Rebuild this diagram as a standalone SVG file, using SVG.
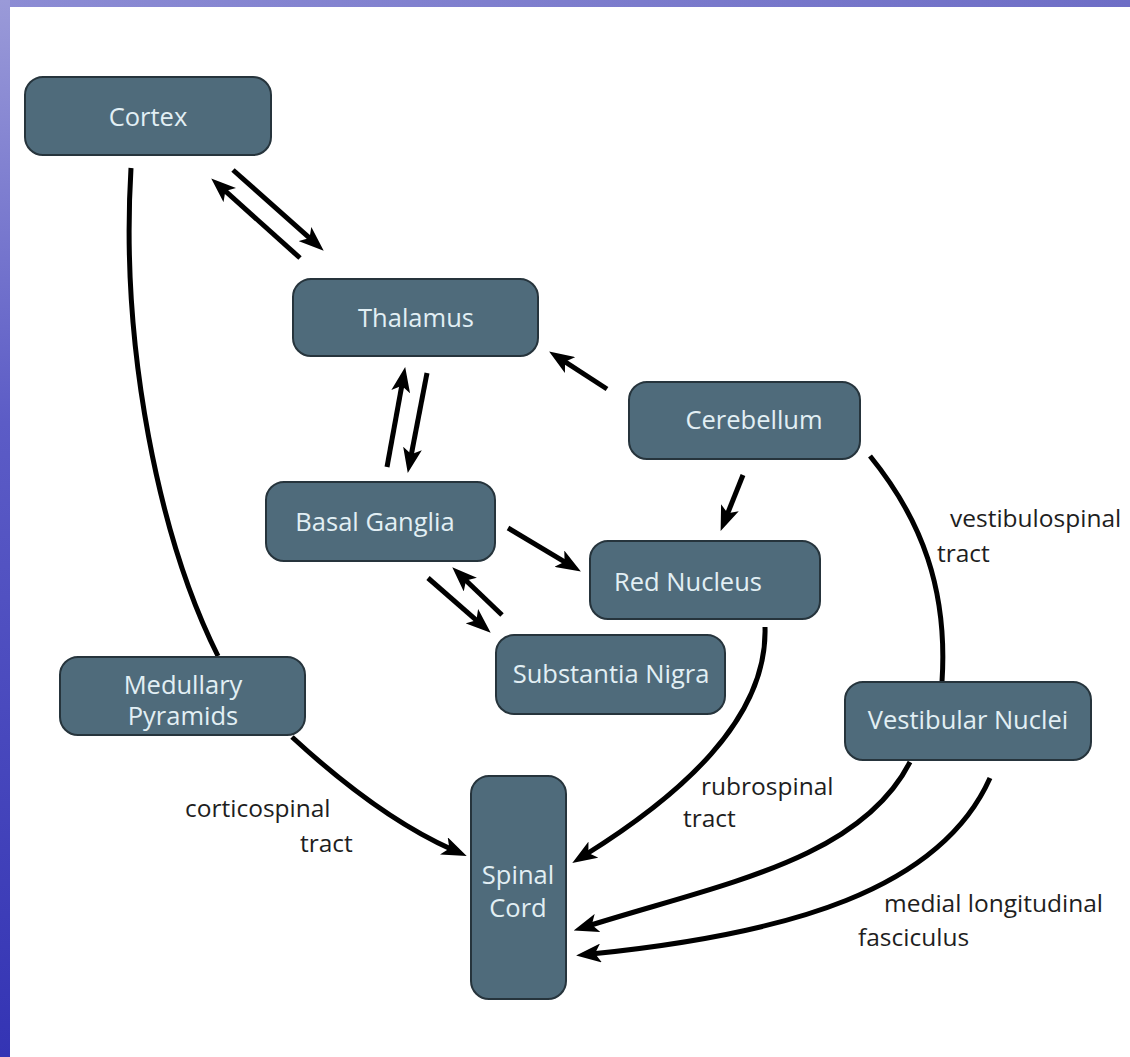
<svg xmlns="http://www.w3.org/2000/svg" width="1130" height="1057" viewBox="0 0 1130 1057">
<style>
.node rect{fill:#4f6b7b;stroke:#26343c;stroke-width:2}
.node text{fill:#e2eff4;font-family:"Open Sans","Liberation Sans",sans-serif;font-size:25.5px;text-anchor:middle}
.lbl{fill:#1e1e1e;font-family:"Open Sans","Liberation Sans",sans-serif;font-size:24.5px}
.c{fill:none;stroke:#000;stroke-width:5;stroke-linecap:butt}
.a{marker-end:url(#ah)}
</style>
<defs>
<linearGradient id="gTop" x1="0" y1="0" x2="1" y2="0">
<stop offset="0" stop-color="#8c8cd4"/><stop offset="1" stop-color="#6e6ec6"/>
</linearGradient>
<linearGradient id="gLeft" x1="0" y1="0" x2="0" y2="1">
<stop offset="0" stop-color="#9a9ad8"/><stop offset="0.4" stop-color="#5c5cc6"/><stop offset="1" stop-color="#3434b4"/>
</linearGradient>
<marker id="ah" viewBox="0 0 25 19" refX="10" refY="9.5" markerWidth="25" markerHeight="19" markerUnits="userSpaceOnUse" orient="auto">
<path d="M0,0 L25,9.5 L0,19 L6,9.5 Z" fill="#000"/>
</marker>
</defs>
<rect x="0" y="0" width="1130" height="1057" fill="#fff"/>
<rect x="0" y="0" width="1130" height="7" fill="url(#gTop)"/>
<rect x="0" y="0" width="10" height="1057" fill="url(#gLeft)"/>

<g id="connectors">
<path class="c" d="M131,168 C120,350 160,540 218,656"/>
<path class="c a" d="M292,737 C330,772 390,822 453,850"/>
<path class="c a" d="M233,170 L312.5,240.7"/>
<path class="c a" d="M300,258 L222.4,188.4"/>
<path class="c a" d="M387,467 L402.5,381.8"/>
<path class="c a" d="M427,373 L410.6,458.3"/>
<path class="c a" d="M607,389 L561.7,359.6"/>
<path class="c a" d="M743,475 L726.2,517"/>
<path class="c a" d="M508,528 L568,563.8"/>
<path class="c a" d="M428,578 L479.4,622.8"/>
<path class="c a" d="M502,615 L463.1,577.7"/>
<path class="c a" d="M765,627 C768,720 678,797 585,855"/>
<path class="c" d="M870,456 C922,520 948,590 942,682"/>
<path class="c a" d="M910,762 C860,860 721,884 588,926"/>
<path class="c a" d="M990,778 C940,890 789,934 591,954"/>
</g>

<g id="cortex" class="node"><rect x="25" y="77" width="246" height="78" rx="18"/><text x="148" y="126">Cortex</text></g>
<g id="thalamus" class="node"><rect x="293" y="279" width="245" height="77" rx="18"/><text x="416" y="327">Thalamus</text></g>
<g id="cerebellum" class="node"><rect x="629" y="382" width="231" height="77" rx="18"/><text x="754" y="429">Cerebellum</text></g>
<g id="basal-ganglia" class="node"><rect x="266" y="482" width="229" height="79" rx="18"/><text x="375" y="531">Basal Ganglia</text></g>
<g id="red-nucleus" class="node"><rect x="590" y="541" width="230" height="78" rx="18"/><text x="688" y="591">Red Nucleus</text></g>
<g id="substantia-nigra" class="node"><rect x="496" y="635" width="229" height="79" rx="18"/><text x="611" y="683">Substantia Nigra</text></g>
<g id="medullary-pyramids" class="node"><rect x="60" y="657" width="245" height="78" rx="18"/><text x="183" y="694">Medullary</text><text x="183" y="725">Pyramids</text></g>
<g id="vestibular-nuclei" class="node"><rect x="845" y="682" width="246" height="78" rx="18"/><text x="968" y="729">Vestibular Nuclei</text></g>
<g id="spinal-cord" class="node"><rect x="471" y="776" width="95" height="223" rx="18"/><text x="518" y="884">Spinal</text><text x="518" y="917">Cord</text></g>

<g id="labels">
<text class="lbl" x="185" y="817">corticospinal</text>
<text class="lbl" x="300" y="852">tract</text>
<text class="lbl" x="701" y="795">rubrospinal</text>
<text class="lbl" x="683" y="827">tract</text>
<text class="lbl" x="950" y="527">vestibulospinal</text>
<text class="lbl" x="937" y="562">tract</text>
<text class="lbl" x="884" y="912">medial longitudinal</text>
<text class="lbl" x="858" y="946">fasciculus</text>
</g>
</svg>
